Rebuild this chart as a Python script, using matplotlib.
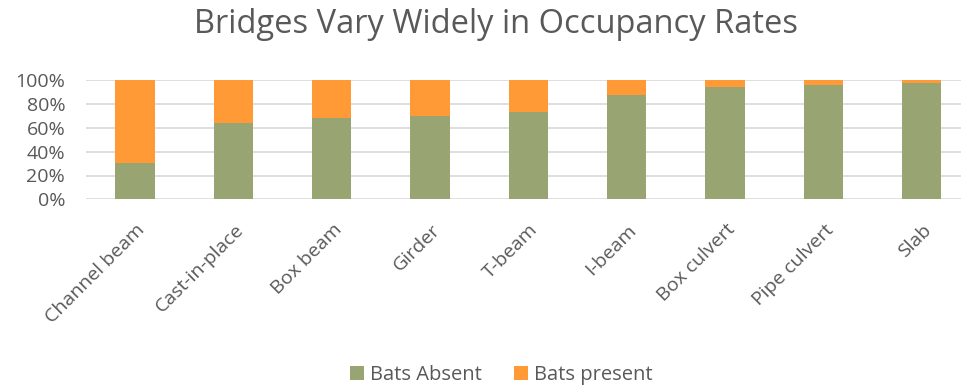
import numpy as np
import matplotlib.pyplot as plt
import matplotlib.transforms as mtransforms
from matplotlib.ticker import PercentFormatter

plt.rcParams['font.family'] = ['Open Sans', 'DejaVu Sans']

tipos = ['Channel beam', 'Cast-in-place', 'Box beam', 'Girder', 'T-beam',
         'I-beam', 'Box culvert', 'Pipe culvert', 'Slab']
ausentes = [30.3, 64.4, 68.6, 70.0, 73.1, 87.4, 94.6, 95.8, 98.0]
presentes = [100 - a for a in ausentes]

verde = '#98A572'
naranja = '#FF9A36'
gris = '#595959'

fig = plt.figure(figsize=(9.62, 3.9), dpi=100)
ax = fig.add_axes([0.0894, 0.489, 0.9106, 0.305])

x = np.arange(len(tipos))
ax.bar(x, ausentes, width=0.4, color=verde, label='Bats Absent', zorder=3)
ax.bar(x, presentes, width=0.4, bottom=ausentes, color=naranja,
       label='Bats present', zorder=3)

ax.set_xlim(-0.5, 8.41)
ax.set_ylim(0, 100)
ax.set_yticks(range(0, 101, 20))
ax.yaxis.set_major_formatter(PercentFormatter(decimals=0))
ax.grid(axis='y', color='#d9d9d9', linewidth=1.2, zorder=0)
for s in ax.spines.values():
    s.set_visible(False)
ax.tick_params(axis='y', length=0, labelsize=14, colors=gris, pad=15)
ax.tick_params(axis='x', length=0, labelsize=14, colors=gris, pad=20)
ax.set_xticks(x)
ax.set_xticklabels(tipos, rotation=45, ha='right', va='center',
                   rotation_mode='anchor')
# correr las etiquetas un poco a la derecha
desplazamiento = mtransforms.ScaledTranslation(7 / 100, 0, fig.dpi_scale_trans)
for etiqueta in ax.get_xticklabels():
    etiqueta.set_transform(etiqueta.get_transform() + desplazamiento)

fig.text(0.516, 0.936, 'Bridges Vary Widely in Occupancy Rates',
         ha='center', va='center', fontsize=23.5, color=gris)

fig.legend(loc='center', bbox_to_anchor=(0.521, 0.038), ncol=2, frameon=False,
           fontsize=14.5, labelcolor=gris, handlelength=0.7, handleheight=0.7,
           handletextpad=0.3, columnspacing=1.6)

fig.savefig('out.png', dpi=100)
